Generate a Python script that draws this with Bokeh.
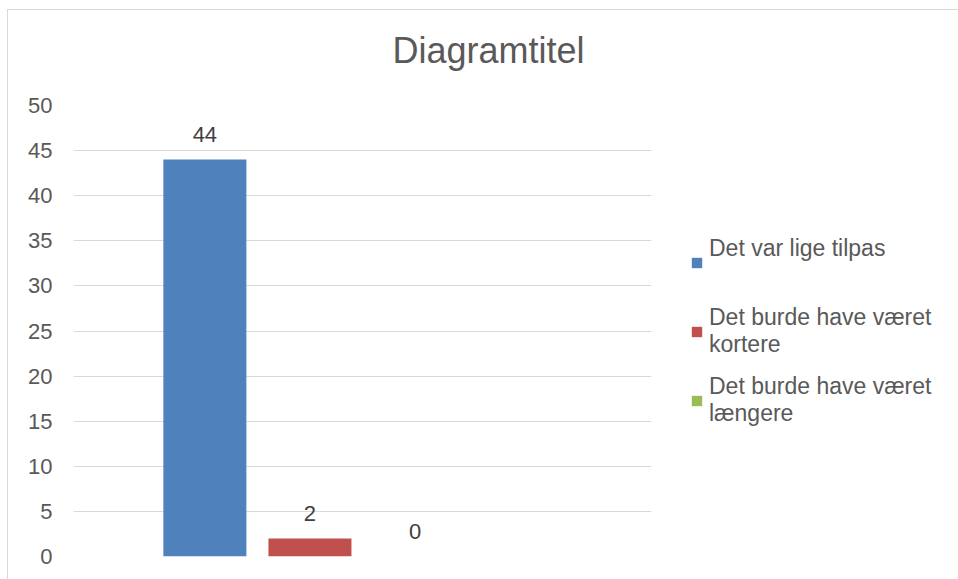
from bokeh.plotting import figure
from bokeh.models import ColumnDataSource, Range1d, LabelSet, Legend, LegendItem, FixedTicker, Title
from bokeh.core.properties import value
from bokeh.embed import file_html
from bokeh.resources import INLINE

series = ["Det var lige tilpas\n\u00a0", "Det burde have været\nkortere", "Det burde have været\nlængere"]
values = [44, 2, 0]
colors = ["#4F81BD", "#C0504D", "#9BBB59"]
positions = [1, 2, 3]
y_ticks = list(range(0, 55, 5))
title_text = "Diagramtitel"

FONT = "Liberation Sans"

p = figure(frame_width=578, frame_height=451, output_backend="svg", toolbar_location=None,
           x_range=Range1d(-0.25, 5.25), y_range=Range1d(0, 50),
           min_border_left=65, min_border_right=307, min_border_top=95, min_border_bottom=23,
           title=None)
p.styles = {"margin-top": "9px", "margin-left": "7px",
            "border-top": "1px solid #D9D9D9", "border-left": "1px solid #D9D9D9"}
p.outline_line_color = None
p.xaxis.visible = False
p.xgrid.grid_line_color = None
p.ygrid.grid_line_color = "#D9D9D9"
p.ygrid.grid_line_width = 1
p.yaxis.ticker = FixedTicker(ticks=y_ticks)
p.yaxis.axis_line_color = None
p.yaxis.major_tick_line_color = None
p.yaxis.minor_tick_line_color = None
p.yaxis.major_label_standoff = 15
p.yaxis.major_label_text_font = FONT
p.yaxis.major_label_text_font_size = "22px"
p.yaxis.major_label_text_color = "#595959"

# spacer between the frame and the title (nearest the frame)
spacer = Title(text=" ", text_font=FONT, text_font_size="10px", standoff=20)
p.add_layout(spacer, "above")
main_title = Title(text=title_text, align="left", vertical_align="top", offset=319, standoff=0,
                   text_font=FONT, text_font_size="36px", text_font_style="normal",
                   text_color="#595959")
p.add_layout(main_title, "above")

items = []
for s, v, c, x in zip(series, values, colors, positions):
    src = ColumnDataSource(dict(x=[x], top=[v]))
    r = p.vbar(x="x", top="top", width=0.79, source=src, fill_color=c, line_color=None)
    items.append(LegendItem(label=s, renderers=[r]))

lab_src = ColumnDataSource(dict(x=positions, y=values, t=[str(v) for v in values]))
labels = LabelSet(x="x", y="y", text="t", source=lab_src, text_align="center",
                  text_baseline="middle", y_offset=25, text_font=value(FONT),
                  text_font_size="22px", text_color="#404040")
p.add_layout(labels)

legend = Legend(items=items, location=(39, 128), glyph_width=13, glyph_height=13,
                label_standoff=6, label_text_font=FONT, label_text_font_size="23px",
                label_text_color="#595959", label_text_line_height=1.2,
                label_height=56, spacing=13, padding=0, margin=0,
                border_line_color=None, background_fill_alpha=0)
p.add_layout(legend, "right")

open("out.html", "w").write(file_html(p, INLINE))
